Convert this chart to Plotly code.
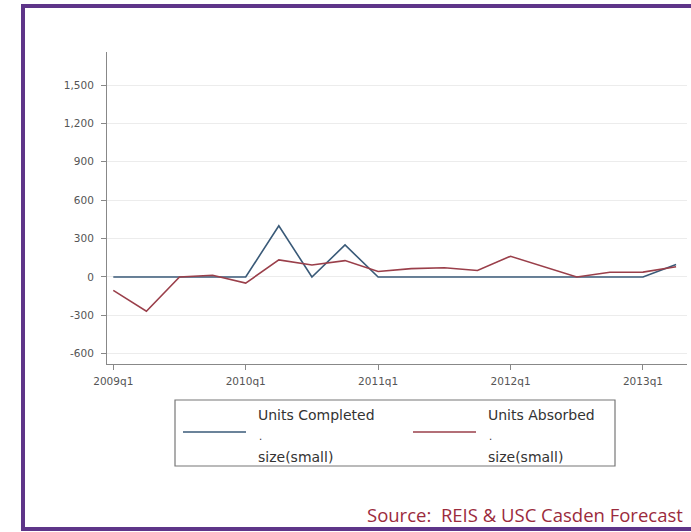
import plotly.graph_objects as go

quarters = ["2009q1", "2009q2", "2009q3", "2009q4",
            "2010q1", "2010q2", "2010q3", "2010q4",
            "2011q1", "2011q2", "2011q3", "2011q4",
            "2012q1", "2012q2", "2012q3", "2012q4",
            "2013q1", "2013q2"]
units_completed = [0, 0, 0, 0, 0, 400, 0, 250, 0, 0, 0, 0, 0, 0, 0, 0, 0, 98]
units_absorbed = [-105, -268, 0, 13, -48, 133, 94, 128, 43, 65, 72, 51, 162, 82, 0, 37, 38, 80]
year_ticks = ["2009q1", "2010q1", "2011q1", "2012q1", "2013q1"]
y_ticks = [-600, -300, 0, 300, 600, 900, 1200, 1500]
y_labels = ["-600", "-300", "0", "300", "600", "900", "1,200", "1,500"]

W, H = 691, 532
L, R, T, B = 107, 687, 52, 364


def px(x):
    return (x - L) / (R - L)


def py(y):
    return (B - y) / (B - T)


blue = "#3a5a78"
red = "#9a3f4a"
txt = "DejaVu Sans"

fig = go.Figure()
fig.add_trace(go.Scatter(x=quarters, y=units_completed, mode="lines",
                         line=dict(color=blue, width=1.6), showlegend=False))
fig.add_trace(go.Scatter(x=quarters, y=units_absorbed, mode="lines",
                         line=dict(color=red, width=1.6), showlegend=False))

fig.update_layout(
    width=W, height=H,
    margin=dict(l=L, r=W - R, t=T, b=H - B),
    paper_bgcolor="white", plot_bgcolor="white",
    font=dict(family=txt, size=10.5, color="#555"),
)
fig.update_xaxes(type="category", range=[-0.19, 17.33],
                 tickvals=year_ticks, ticktext=year_ticks,
                 showline=True, linecolor="#888", linewidth=1,
                 ticks="outside", ticklen=5, tickcolor="#888",
                 showgrid=False, zeroline=False, ticklabelstandoff=2)
fig.update_yaxes(range=[-680, 1758], tickvals=y_ticks, ticktext=y_labels,
                 showline=True, linecolor="#888", linewidth=1,
                 ticks="outside", ticklen=5, tickcolor="#888",
                 showgrid=True, gridcolor="#ececec", gridwidth=1,
                 zeroline=False, ticklabelstandoff=5)

shapes = [
    # purple frame (right side runs off the picture)
    dict(type="rect", xref="paper", yref="paper",
         x0=px(23), x1=px(720), y0=py(529), y1=py(6),
         line=dict(color="#5e3589", width=4), fillcolor="rgba(0,0,0,0)"),
    # legend box
    dict(type="rect", xref="paper", yref="paper",
         x0=px(175), x1=px(615), y0=py(466), y1=py(400),
         line=dict(color="#777", width=1.2), fillcolor="white"),
    dict(type="line", xref="paper", yref="paper",
         x0=px(183), x1=px(246), y0=py(432), y1=py(432),
         line=dict(color=blue, width=1.6)),
    dict(type="line", xref="paper", yref="paper",
         x0=px(413), x1=px(476), y0=py(432), y1=py(432),
         line=dict(color=red, width=1.6)),
]

annotations = []
for x0, name in [(256, "Units Completed"), (486, "Units Absorbed")]:
    annotations.append(dict(text=name, x=px(x0), y=py(415), xref="paper", yref="paper",
                            xanchor="left", yanchor="middle", showarrow=False,
                            font=dict(family=txt, size=14, color="#333")))
    annotations.append(dict(text=".", x=px(x0 + 1), y=py(436), xref="paper", yref="paper",
                            xanchor="left", yanchor="middle", showarrow=False,
                            font=dict(family=txt, size=10, color="#333")))
    annotations.append(dict(text="size(small)", x=px(x0), y=py(457), xref="paper", yref="paper",
                            xanchor="left", yanchor="middle", showarrow=False,
                            font=dict(family=txt, size=14, color="#333")))
annotations.append(dict(text="Source:\u00a0 REIS &amp; USC Casden Forecast",
                        x=px(685), y=py(514), xref="paper", yref="paper",
                        xanchor="right", yanchor="middle", showarrow=False,
                        font=dict(family="Open Sans", size=18.5, color="#9b2b3d")))

fig.update_layout(shapes=shapes, annotations=annotations)
# drop the default 8px body margin so the figure fills the window exactly
fig.write_html("out.html", config={"displayModeBar": False},
               post_script="document.body.style.margin='0';")
